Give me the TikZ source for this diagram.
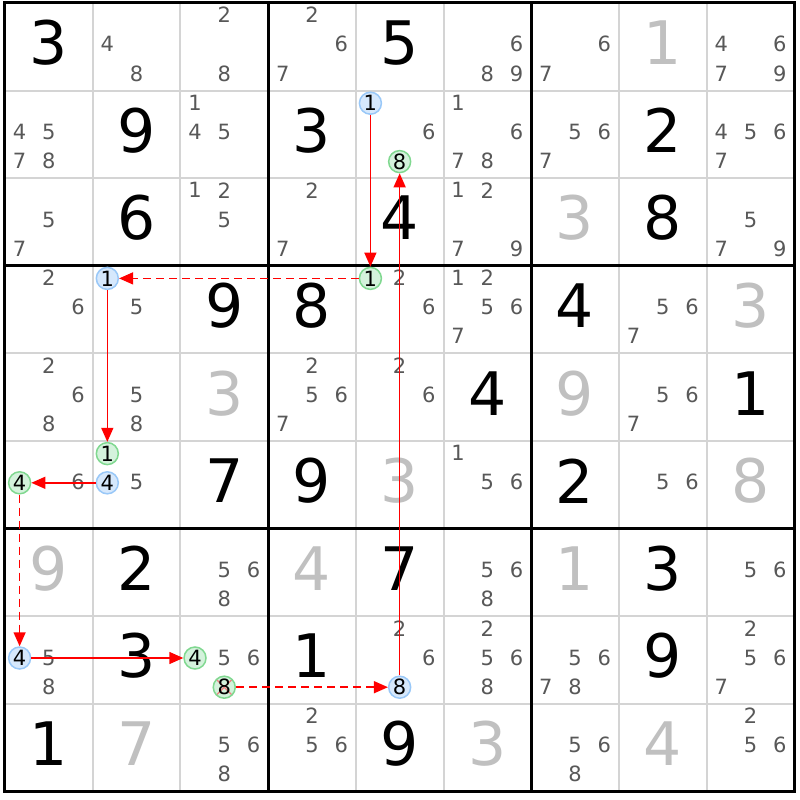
\documentclass[tikz,border=0pt]{standalone}
\usepackage{fontspec}
\setmainfont{DejaVu Sans}
\usetikzlibrary{arrows.meta}
\definecolor{candgray}{HTML}{585858}
\definecolor{solvedgray}{HTML}{C0C0C0}
\definecolor{gridgray}{HTML}{D4D4D4}
\definecolor{bluefill}{HTML}{D6E8FC}
\definecolor{blueline}{HTML}{99C8F8}
\definecolor{greenfill}{HTML}{D4F2DC}
\definecolor{greenline}{HTML}{80D890}
\definecolor{crosspink}{HTML}{F08080}
\tikzset{
  given/.style={font=\fontsize{60}{60}\selectfont, inner sep=0pt, yshift=4pt},
  solved/.style={given, text=solvedgray},
  cand/.style={font=\fontsize{21}{21}\selectfont, text=candgray, inner sep=0pt, yshift=2.5pt},
  bluecand/.style={circle, draw=blueline, fill=bluefill, line width=1.5pt, minimum size=22pt, inner sep=0pt, yshift=2pt, font=\fontsize{21}{21}\selectfont},
  greencand/.style={bluecand, draw=greenline, fill=greenfill},
  crossed/.style={path picture={
      \draw[crosspink, line width=1.3pt] (path picture bounding box.north west)--(path picture bounding box.south east);
      \draw[crosspink, line width=1.3pt] (path picture bounding box.north east)--(path picture bounding box.south west);}},
  stronglink/.style={red, line width=1.5pt, -{Triangle[length=14pt,width=12pt]}},
  weaklink/.style={stronglink, dash pattern=on 8pt off 5pt}
}
\begin{document}
\begin{tikzpicture}[x=87.7pt, y=-87.6pt]
    \fill[white] (-5pt,3pt) rectangle (795pt,-797pt);
    \useasboundingbox (-5pt,3pt) rectangle (795pt,-797pt);
    \foreach \i in {1,2,4,5,7,8} {
        \draw[gridgray, line width=2pt] (\i,0)--(\i,9);
        \draw[gridgray, line width=2pt] (0,\i)--(9,\i);
    }
    \foreach \i in {3,6} {
        \draw[line width=3pt] (\i,0)--(\i,9);
        \draw[line width=3pt] (0,\i)--(9,\i);
    }
    \draw[line width=3pt] (0,0) rectangle (9,9);
    \foreach \r/\c/\d in {1/1/3, 1/5/5, 2/2/9, 2/4/3, 2/8/2, 3/2/6, 3/5/4, 3/8/8,
        4/3/9, 4/4/8, 4/7/4, 5/6/4, 5/9/1, 6/3/7, 6/4/9, 6/7/2,
        7/2/2, 7/5/7, 7/8/3, 8/2/3, 8/4/1, 8/8/9, 9/1/1, 9/5/9}
        \node[given] at (\c-0.5,\r-0.5) {\d};
    \foreach \r/\c/\d in {1/8/1, 3/7/3, 4/9/3, 5/3/3, 5/7/9, 6/5/3, 6/9/8,
        7/1/9, 7/4/4, 7/7/1, 9/2/7, 9/6/3, 9/8/4}
        \node[solved] at (\c-0.5,\r-0.5) {\d};
    \foreach \r/\c/\ds in {1/2/{4,8}, 1/3/{2,8}, 1/4/{2,6,7}, 1/6/{6,8,9}, 1/7/{6,7}, 1/9/{4,6,7,9},
        2/1/{4,5,7,8}, 2/3/{1,4,5}, 2/5/{6}, 2/6/{1,6,7,8}, 2/7/{5,6,7}, 2/9/{4,5,6,7},
        3/1/{5,7}, 3/3/{1,2,5}, 3/4/{2,7}, 3/6/{1,2,7,9}, 3/9/{5,7,9},
        4/1/{2,6}, 4/2/{5}, 4/5/{2,6}, 4/6/{1,2,5,6,7}, 4/8/{5,6,7},
        5/1/{2,6,8}, 5/2/{5,8}, 5/4/{2,5,6,7}, 5/5/{2,6}, 5/8/{5,6,7},
        6/1/{6}, 6/2/{5}, 6/6/{1,5,6}, 6/8/{5,6},
        7/3/{5,6,8}, 7/6/{5,6,8}, 7/9/{5,6},
        8/1/{5,8}, 8/3/{5,6}, 8/5/{2,6}, 8/6/{2,5,6,8}, 8/7/{5,6,7,8}, 8/9/{2,5,6,7},
        9/3/{5,6,8}, 9/4/{2,5,6}, 9/7/{5,6,8}, 9/9/{2,5,6}}
        \foreach \d in \ds
            \node[cand] at ({\c-1+(mod(\d-1,3)+0.5)/3},{\r-1+(floor((\d-1)/3)+0.5)/3}) {\d};
    \node[bluecand] (r2c5n1) at ({4+1/6},{1+1/6}) {1};
    \node[greencand] (r2c5n8) at (4.5,{1+5/6}) {8};
    \node[greencand] (r4c5n1) at ({4+1/6},{3+1/6}) {1};
    \node[bluecand] (r4c2n1) at ({1+1/6},{3+1/6}) {1};
    \node[greencand] (r6c2n1) at ({1+1/6},{5+1/6}) {1};
    \node[bluecand] (r6c2n4) at ({1+1/6},5.5) {4};
    \node[greencand] (r6c1n4) at ({1/6},5.5) {4};
    \node[bluecand] (r8c1n4) at ({1/6},7.5) {4};
    \node[greencand] (r8c3n4) at ({2+1/6},7.5) {4};
    \node[greencand, crossed] (r8c3n8) at (2.5,{7+5/6}) {8};
    \node[bluecand] (r8c5n8) at (4.5,{7+5/6}) {8};
    \draw[stronglink] (r2c5n1)--(r4c5n1);
    \draw[weaklink] (r4c5n1)--(r4c2n1);
    \draw[stronglink] (r4c2n1)--(r6c2n1);
    \draw[stronglink] (r6c2n4)--(r6c1n4);
    \draw[weaklink] (r6c1n4)--(r8c1n4);
    \draw[stronglink] (r8c1n4)--(r8c3n4);
    \draw[weaklink] (r8c3n8)--(r8c5n8);
    \draw[stronglink] (r8c5n8)--(r2c5n8);
\end{tikzpicture}
\end{document}
